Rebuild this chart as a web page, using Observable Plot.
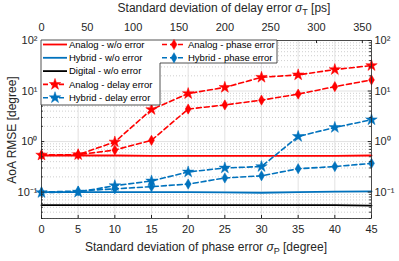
<!DOCTYPE html>
<html><head><meta charset="utf-8">
<script src="https://cdn.jsdelivr.net/npm/d3@7"></script>
<script src="https://cdn.jsdelivr.net/npm/@observablehq/plot@0.6"></script>
<style>
html,body{margin:0;padding:0;background:#fff;}
#chart{position:relative;width:399px;height:261px;}
</style></head>
<body><div id="chart"></div>
<script>
// phase error std (degree) -- x values
const phaseStd = [0, 5, 10, 15, 20, 25, 30, 35, 40, 45];
// top axis ticks (delay error, ps); 360 ps corresponds to 45 degree
const delayTicks = [0, 50, 100, 150, 200, 250, 300, 350];
const psPerDegree = 8;
// series values (AoA RMSE, degree)
const analogWo    = [0.53, 0.53, 0.53, 0.52, 0.52, 0.52, 0.52, 0.52, 0.52, 0.53];
const hybridWo    = [0.10, 0.10, 0.10, 0.10, 0.10, 0.099, 0.097, 0.10, 0.102, 0.103];
const digitalWo   = [0.055, 0.055, 0.055, 0.055, 0.055, 0.055, 0.055, 0.055, 0.055, 0.054];
const analogDelay = [0.54, 0.55, 0.98, 4.3, 8.9, 11.8, 18.7, 20.9, 26.6, 31.9];
const hybridDelay = [0.098, 0.10, 0.134, 0.166, 0.25, 0.30, 0.32, 1.26, 1.9, 2.7];
const analogPhase = [0.54, 0.55, 0.68, 1.06, 4.4, 5.3, 6.6, 8.7, 12.2, 16.6];
const hybridPhase = [0.10, 0.105, 0.116, 0.128, 0.144, 0.19, 0.21, 0.29, 0.32, 0.37];
const yMajor = [0.1, 1, 10, 100];
const yMajorLabels = ["10⁻¹", "10⁰", "10¹", "10²"];

const RED = "#ff0000", BLUE = "#0072bd", BLACK = "#000000";
const STAR_R = 3.6, DIAMOND_R = 3.1;
const series = [
  {name: "Analog - w/o error",    v: analogWo,    color: RED,   dash: null, sym: null},
  {name: "Hybrid - w/o error",    v: hybridWo,    color: BLUE,  dash: null, sym: null},
  {name: "Digital - w/o error",   v: digitalWo,   color: BLACK, dash: null, sym: null},
  {name: "Analog - delay error",  v: analogDelay, color: RED,   dash: "5,3", sym: "star"},
  {name: "Hybrid - delay error",  v: hybridDelay, color: BLUE,  dash: "5,3", sym: "star"},
  {name: "Analog - phase error",  v: analogPhase, color: RED,   dash: "5,3", sym: "diamond"},
  {name: "Hybrid - phase error",  v: hybridPhase, color: BLUE,  dash: "5,3", sym: "diamond"}
];
const rows = s => phaseStd.map((x, i) => ({x, y: s.v[i]}));

const yMinor = [];
for (const d of [0.01, 0.1, 1, 10]) for (let k = 2; k <= 9; k++) { const v = +(d*k).toPrecision(3); if (v >= 0.03 && v < 100) yMinor.push(v); }

const font = "'Liberation Sans', Arial, Helvetica, sans-serif";
const marks = [
  Plot.gridY(yMinor, {stroke: "#cfcfcf", strokeOpacity: 1, strokeDasharray: "1,2"}),
  Plot.gridX(phaseStd, {stroke: "#e2e2e2", strokeOpacity: 1}),
  Plot.gridY(yMajor, {stroke: "#e2e2e2", strokeOpacity: 1}),
];
for (const s of series) {
  marks.push(Plot.line(rows(s), {x: "x", y: "y", stroke: s.color, strokeWidth: s.sym ? 1.6 : 1.8, strokeDasharray: s.dash}));
}
for (const s of series) if (s.sym) {
  marks.push(Plot.dot(rows(s), {x: "x", y: "y", symbol: s.sym, r: s.sym === "star" ? STAR_R : DIAMOND_R, fill: s.color, stroke: s.color, strokeWidth: 0.5}));
}
// inward ticks
marks.push(
  Plot.ruleX(phaseStd, {x: d => d, y1: 0.03, y2: 0.03 * 1.15, stroke: "#262626"}),
  Plot.ruleX(delayTicks, {x: d => d / psPerDegree, y1: 100, y2: 100 / 1.15, stroke: "#262626"}),
  Plot.ruleY(yMajor.concat(yMinor), {y: d => d, x1: 0, x2: d => yMajor.includes(d) ? 0.45 : 0.25, stroke: "#262626"}),
  Plot.ruleY(yMajor.concat(yMinor), {y: d => d, x1: 45, x2: d => yMajor.includes(d) ? 44.55 : 44.75, stroke: "#262626"}),
  Plot.frame({stroke: "#262626", strokeWidth: 0.8}),
  Plot.axisX(phaseStd, {anchor: "bottom", tickSize: 0, tickPadding: 7, label: null, fontSize: 11}),
  Plot.axisX(delayTicks.map(d => d / psPerDegree), {anchor: "top", tickSize: 0, tickPadding: 10, label: null, fontSize: 11, tickFormat: d => String(Math.round(d * psPerDegree))}),
  Plot.axisY(yMajor, {anchor: "left", tickSize: 0, tickPadding: 4, label: null, fontSize: 11, tickFormat: d => yMajorLabels[yMajor.indexOf(d)]}),
  Plot.axisY(yMajor, {anchor: "right", tickSize: 0, tickPadding: 3, label: null, fontSize: 11, tickFormat: d => yMajorLabels[yMajor.indexOf(d)]})
);

const plot = Plot.plot({
  width: 399, height: 261,
  marginLeft: 41, marginRight: 28, marginTop: 40, marginBottom: 43,
  style: {fontFamily: font, color: "#262626", background: "#fff"},
  x: {domain: [0, 45]},
  y: {type: "log", domain: [0.03, 100]},
  marks
});
document.getElementById("chart").appendChild(plot);

const svg = d3.select(plot);
const xs = plot.scale("x"), ys = plot.scale("y");
// titles
const topTitle = svg.append("text").attr("x", 224).attr("y", 12).attr("text-anchor", "middle")
  .attr("font-size", 12).attr("fill", "#262626").attr("font-family", font);
topTitle.append("tspan").text("Standard deviation of delay error ");
topTitle.append("tspan").attr("font-style", "italic").text("σ");
topTitle.append("tspan").attr("font-size", 9).attr("dy", 3).text("T");
topTitle.append("tspan").attr("dy", -3).text(" [ps]");
const botTitle = svg.append("text").attr("x", 206).attr("y", 251).attr("text-anchor", "middle")
  .attr("font-size", 12).attr("fill", "#262626").attr("font-family", font);
botTitle.append("tspan").text("Standard deviation of phase error ");
botTitle.append("tspan").attr("font-style", "italic").text("σ");
botTitle.append("tspan").attr("font-size", 9).attr("dy", 3).text("P");
botTitle.append("tspan").attr("dy", -3).text(" [degree]");
svg.append("text").attr("transform", "translate(16,130) rotate(-90)").attr("text-anchor", "middle")
  .attr("font-size", 12).attr("fill", "#262626").attr("font-family", font).text("AoA RMSE [degree]");

// legend
const L0 = xs.apply(0), T0 = ys.apply(100);
const colW = 119, rowH = 13.3;
const lg = svg.append("g").attr("font-family", font).attr("font-size", 9.5).attr("fill", "#000").attr("text-anchor", "start");
lg.append("path").attr("d", `M${L0},${T0}H${L0 + 236}V${T0 + 23}H${L0 + colW}V${T0 + 65}H${L0}Z`)
  .attr("fill", "#fff").attr("stroke", "#262626").attr("stroke-width", 0.8);
series.forEach((s, i) => {
  const col = i < 5 ? 0 : 1, row = i < 5 ? i : i - 5;
  const x0 = L0 + 2 + col * colW, y0 = T0 + 4.5 + row * rowH;
  lg.append("line").attr("x1", x0).attr("x2", x0 + 24).attr("y1", y0).attr("y2", y0)
    .attr("stroke", s.color).attr("stroke-width", s.sym ? 1.6 : 1.8).attr("stroke-dasharray", s.dash);
  if (s.sym) {
    const sym = s.sym === "star" ? d3.symbolStar : d3.symbolDiamond;
    const r = s.sym === "star" ? STAR_R : DIAMOND_R;
    lg.append("path").attr("d", d3.symbol(sym, Math.PI * r * r)()).attr("transform", `translate(${x0 + 12},${y0})`)
      .attr("fill", s.color).attr("stroke", s.color).attr("stroke-width", 0.5);
  }
  lg.append("text").attr("x", x0 + 26).attr("y", y0).attr("dy", "0.35em").text(s.name);
});
</script>
</body></html>
